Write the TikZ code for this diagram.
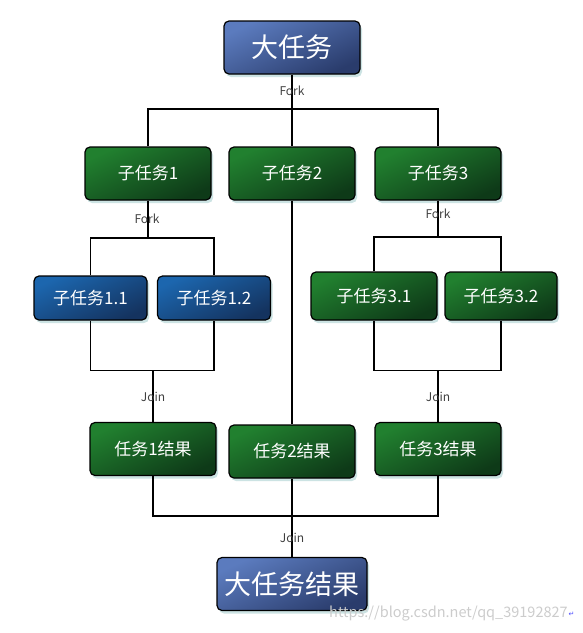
\documentclass[tikz,border=0pt]{standalone}
\usepackage{fontspec}
\setmainfont{Noto Sans CJK SC}
\newfontfamily\symfont{DejaVu Sans}
\usetikzlibrary{positioning,shadows}

\definecolor{bigtop}{HTML}{5B7BBE}
\definecolor{bigbot}{HTML}{2A3C6C}
\definecolor{greentop}{HTML}{21802F}
\definecolor{greenbot}{HTML}{0E3A18}
\definecolor{bluetop}{HTML}{1C66AE}
\definecolor{bluebot}{HTML}{14335F}
\definecolor{glow}{HTML}{BFDCDC}

\tikzset{
  task/.style={draw=black, line width=1.2pt, rounded corners=5pt, text=white,
    drop shadow={shadow xshift=2pt, shadow yshift=-3pt, fill=glow, opacity=.8}},
  bigtask/.style={task, top color=bigtop, bottom color=bigbot, shading angle=25,
    minimum width=136pt, minimum height=53pt, font=\fontsize{27}{30}\selectfont},
  subtask/.style={task, top color=greentop, bottom color=greenbot, shading angle=25,
    minimum width=126pt, minimum height=53pt, font=\fontsize{17}{20}\selectfont},
  leaftask/.style={task, top color=bluetop, bottom color=bluebot, shading angle=25,
    minimum width=113pt, minimum height=44pt, font=\fontsize{17}{20}\selectfont},
  greenleaf/.style={subtask, minimum width=126pt, minimum height=48pt},
  wire/.style={draw=black, line width=1.8pt},
  lbl/.style={font=\fontsize{12}{14}\selectfont, text=black!75, inner sep=0pt}
}

\begin{document}
\begin{tikzpicture}[x=1pt, y=-1pt]
    \useasboundingbox (0,0) rectangle (583,633);

    % top level
    \node[bigtask] (big) at (292,47.5) {大任务};
    \node[subtask] (s1) at (148,173.5) {子任务1};
    \node[subtask] (s2) at (292,173.5) {子任务2};
    \node[subtask] (s3) at (438,173.5) {子任务3};

    % second level
    \node[leaftask] (s11) at (90.5,298) {子任务1.1};
    \node[leaftask] (s12) at (214,298) {子任务1.2};
    \node[greenleaf] (s31) at (374,296) {子任务3.1};
    \node[greenleaf, minimum width=112pt] (s32) at (501,296) {子任务3.2};

    % results
    \node[subtask] (r1) at (153,449) {任务1结果};
    \node[subtask] (r2) at (292,451.5) {任务2结果};
    \node[subtask] (r3) at (438,449) {任务3结果};
    \node[bigtask, minimum width=150pt] (res) at (292,584) {大任务结果};

    % junctions
    \coordinate (f0) at (292,109);
    \coordinate (f1) at (148,238);
    \coordinate (f3) at (438,237);
    \coordinate (j1) at (153,370.5);
    \coordinate (j3) at (438,370.5);
    \coordinate (j0) at (292,516);

    % fork from the big task
    \draw[wire] (big) -- (f0);
    \draw[wire] (s1.north) -- (s1.north |- f0) -- (s3.north |- f0) -- (s3.north);
    \draw[wire] (f0) -- (s2.north);
    \node[lbl] at (292,91) {Fork};

    % sub task 1
    \draw[wire] (s1) -- (f1);
    \draw[wire] (s11.north) -- (s11.north |- f1) -- (s12.north |- f1) -- (s12.north);
    \draw[wire] (s11.south) -- (s11.south |- j1) -- (s12.south |- j1) -- (s12.south);
    \draw[wire] (j1) -- (r1.north);
    \node[lbl] at (147,219) {Fork};
    \node[lbl] at (153,397) {Join};

    % sub task 2
    \draw[wire] (s2.south) -- (r2.north);

    % sub task 3
    \draw[wire] (s3) -- (f3);
    \draw[wire] (s31.north) -- (s31.north |- f3) -- (s32.north |- f3) -- (s32.north);
    \draw[wire] (s31.south) -- (s31.south |- j3) -- (s32.south |- j3) -- (s32.south);
    \draw[wire] (j3) -- (r3.north);
    \node[lbl] at (438,214) {Fork};
    \node[lbl] at (438,397) {Join};

    % join into the result
    \draw[wire] (r1.south) -- (r1.south |- j0) -- (r3.south |- j0) -- (r3.south);
    \draw[wire] (r2.south) -- (res.north);
    \node[lbl] at (292,538) {Join};

    \node[font=\fontsize{14.5}{17}\selectfont, text=black!20, anchor=west, inner sep=0pt] (mark) at (329,614) {https://blog.csdn.net/qq\_39192827};
    \node[font=\symfont\fontsize{7}{9}\selectfont, text=blue!70, right=0.5pt of mark.east, inner sep=0pt] {↵};
\end{tikzpicture}
\end{document}
